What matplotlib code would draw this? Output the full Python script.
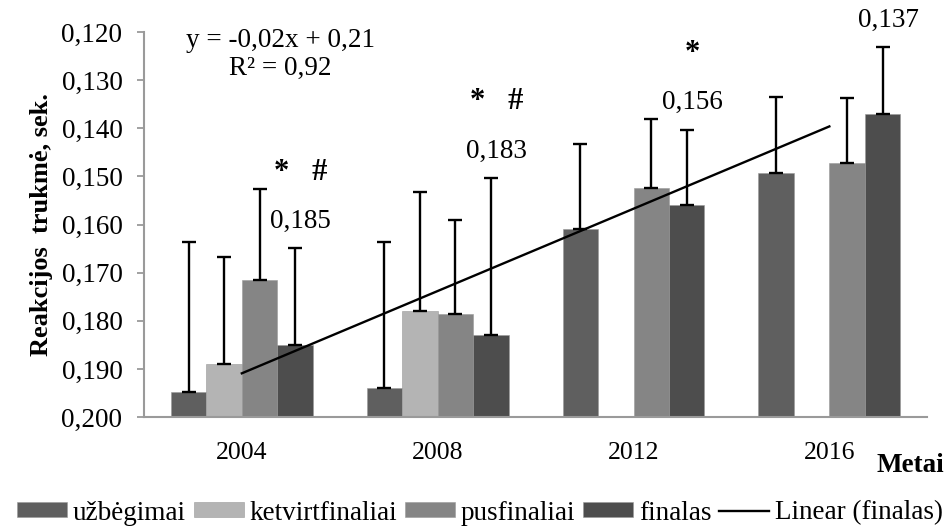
import numpy as np
import matplotlib
matplotlib.use("Agg")
import matplotlib.pyplot as plt
from matplotlib.ticker import FixedLocator, FuncFormatter

plt.rcParams["font.family"] = ["Liberation Serif", "DejaVu Serif"]

years = ["2004", "2008", "2012", "2016"]
series_names = ["užbėgimai", "ketvirtfinaliai", "pusfinaliai", "finalas"]
uzbegimai = [0.1948, 0.1940, 0.1610, 0.1493]
ketvirtfinaliai = [0.1890, 0.1780, np.nan, np.nan]
pusfinaliai = [0.1715, 0.1786, 0.1524, 0.1472]
finalas = [0.185, 0.183, 0.156, 0.137]
err_uzbegimai = [0.0311, 0.0303, 0.0177, 0.0158]
err_ketvirtfinaliai = [0.0222, 0.0247, np.nan, np.nan]
err_pusfinaliai = [0.0189, 0.0196, 0.0143, 0.0135]
err_finalas = [0.0201, 0.0327, 0.0157, 0.0139]
final_labels = ["0,185", "0,183", "0,156", "0,137"]
significance = ["*   #", "*   #", "*", ""]
y_ticks = [0.120, 0.130, 0.140, 0.150, 0.160, 0.170, 0.180, 0.190, 0.200]

colors = ["#5f5f5f", "#b4b4b4", "#858585", "#4d4d4d"]
values = [uzbegimai, ketvirtfinaliai, pusfinaliai, finalas]
errors = [err_uzbegimai, err_ketvirtfinaliai, err_pusfinaliai, err_finalas]

fig = plt.figure(figsize=(9.53, 5.26), dpi=100)
ax = fig.add_axes([0.151, 0.207, 0.822, 0.732])

base = 0.200
x = np.arange(len(years))
w = 0.181
for i, (vals, errs, col, name) in enumerate(zip(values, errors, colors, series_names)):
    vals = np.asarray(vals, dtype=float)
    errs = np.asarray(errs, dtype=float)
    pos = x + (i - 1.5) * w
    ax.bar(pos, vals - base, bottom=base, width=w, color=col,
           edgecolor="#9a9a9a", linewidth=0.4, label=name, zorder=2)
    ok = ~np.isnan(vals)
    ax.errorbar(pos[ok], vals[ok], yerr=[errs[ok], np.zeros(ok.sum())],
                fmt="none", ecolor="black", elinewidth=1.7, capsize=5,
                capthick=1.7, zorder=3)

# Linear trend of the finals
fin = np.asarray(finalas)
k, b = np.polyfit(np.arange(1, 5), fin, 1)
xt = np.array([1, 4])
ax.plot(xt - 1, k * xt + b, color="black", lw=1.7, label="Linear (finalas)",
        zorder=4)

fin_pos = x + 1.5 * w
fin_err = np.asarray(err_finalas)
for xp, v, e, lab, sig in zip(fin_pos, fin, fin_err, final_labels, significance):
    top = v - e
    ax.text(xp + 0.03, top - 0.0056, lab, ha="center", va="center", fontsize=19.5)
    if sig:
        ax.text(xp + 0.03, top - 0.0158, sig, ha="center", va="center",
                fontsize=22, fontweight="bold")

ax.text(0.174, 0.979, "y = -0,02x + 0,21", transform=ax.transAxes,
        ha="center", va="center", fontsize=19.5)
ax.text(0.174, 0.906, "R² = 0,92", transform=ax.transAxes,
        ha="center", va="center", fontsize=19.5)

ax.set_xlim(-0.5, 3.5)
ax.set_ylim(0.200, 0.120)
ax.yaxis.set_major_locator(FixedLocator(y_ticks))
ax.yaxis.set_major_formatter(FuncFormatter(lambda v, p: f"{v:.3f}".replace(".", ",")))
ax.set_xticks(x)
ax.set_xticklabels(years)
ax.tick_params(axis="y", labelsize=19.5, length=5, width=1.3, color="#9a9a9a",
               direction="out", pad=10.5)
ax.tick_params(axis="x", labelsize=18.5, length=0, pad=18)
for s in ["top", "right"]:
    ax.spines[s].set_visible(False)
for s in ["left", "bottom"]:
    ax.spines[s].set_color("#9a9a9a")
    ax.spines[s].set_linewidth(1.5)

fig.text(42 / 953, 1 - 225 / 526, "Reakcijos  trukmė, sek.", rotation=90,
         ha="center", va="center", fontsize=19, fontweight="bold")
fig.text(910 / 953, 1 - 465 / 526, "Metai", ha="center", va="center",
         fontsize=19.5, fontweight="bold")

handles, labels = ax.get_legend_handles_labels()
order = [1, 2, 3, 4, 0]
fig.legend([handles[j] for j in order], [labels[j] for j in order],
           loc="center", bbox_to_anchor=(480 / 953, 1 - 513 / 526), ncol=5,
           frameon=False, fontsize=19.5, handlelength=1.85, handleheight=0.48,
           handletextpad=0.22, columnspacing=0.28, borderaxespad=0,
           borderpad=0)

fig.savefig("out.png", dpi=100)
